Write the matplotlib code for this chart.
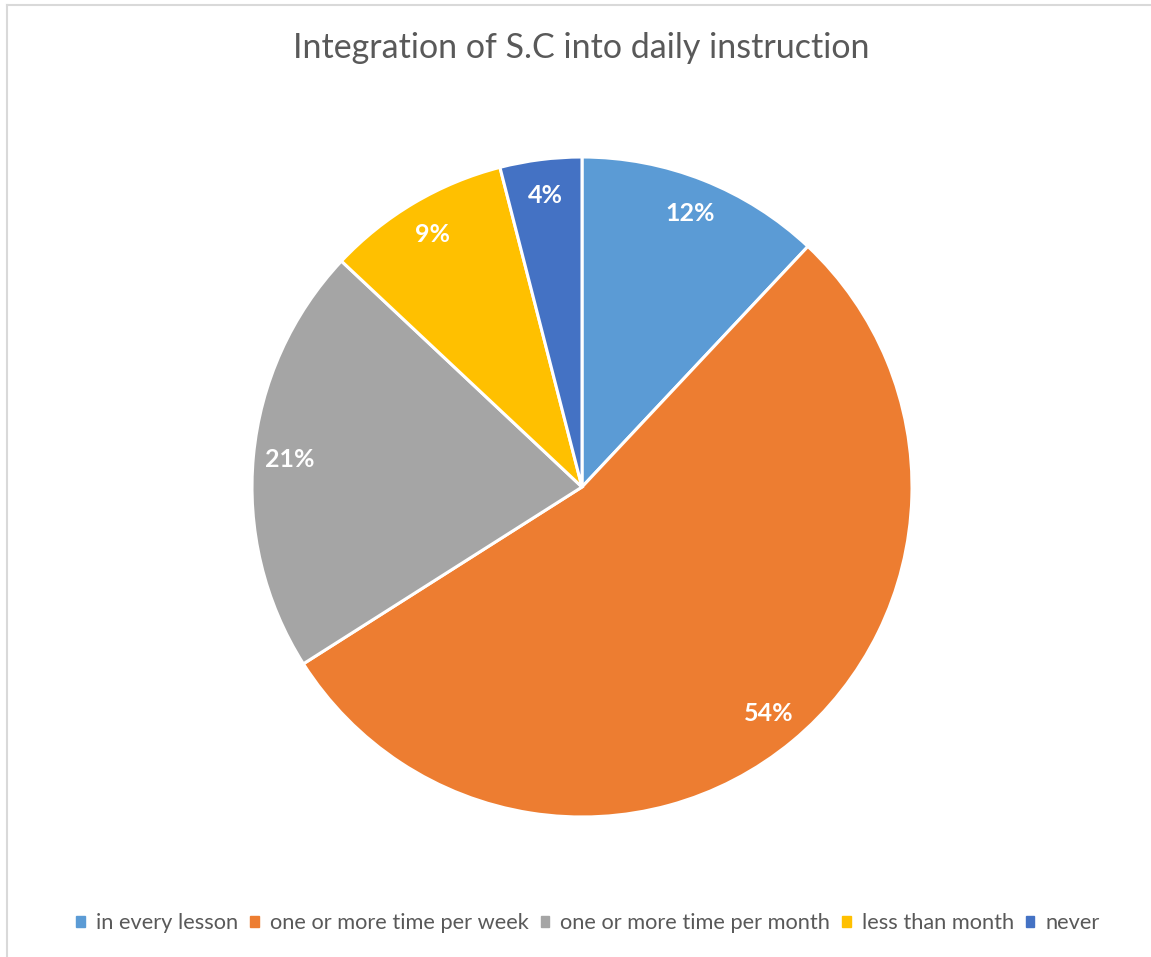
import matplotlib
matplotlib.use("Agg")
import matplotlib.pyplot as plt
from matplotlib.lines import Line2D
from matplotlib.patches import Patch

categories = ["in every lesson", "one or more time per week",
              "one or more time per month", "less than month", "never"]
values = [12, 54, 21, 9, 4]
colors = ["#5B9BD5", "#ED7D31", "#A5A5A5", "#FFC000", "#4472C4"]
title = "Integration of S.C into daily instruction"

W, H = 1151, 957
fig = plt.figure(figsize=(W / 100, H / 100), dpi=100)
fig.patch.set_facecolor("white")

# light frame on top and left edges
fig.add_artist(Line2D([6.5 / W, 6.5 / W], [0, 1 - 4.5 / H], transform=fig.transFigure,
                      color="#d9d9d9", lw=1.5))
fig.add_artist(Line2D([6.5 / W, 1], [1 - 4.5 / H, 1 - 4.5 / H], transform=fig.transFigure,
                      color="#d9d9d9", lw=1.5))

cx, cy, r = 582, 487, 330
ax = fig.add_axes([(cx - r) / W, (H - cy - r) / H, 2 * r / W, 2 * r / H])
wedges, texts, autotexts = ax.pie(
    values, colors=colors, startangle=90, counterclock=False,
    autopct="%d%%", pctdistance=0.89, radius=1,
    wedgeprops=dict(edgecolor="white", linewidth=2.2),
    textprops=dict(color="white", fontsize=18, fontweight="bold", family="Lato"))
ax.set_xlim(-1, 1)
ax.set_ylim(-1, 1)
ax.set_aspect("equal")
ax.axis("off")

fig.text(581 / W, 1 - 48 / H, title, ha="center", va="center",
         fontsize=24.5, color="#595959", family="Lato")

handles = [Patch(facecolor=c, edgecolor=c) for c in colors]
fig.legend(handles, categories, loc="center", bbox_to_anchor=(588 / W, 1 - 923 / H),
           ncol=5, frameon=False, labelcolor="#595959",
           handlelength=0.4, handleheight=0.4, handletextpad=0.5, columnspacing=0.55,
           prop=dict(family="Lato", size=15.7))

fig.savefig("out.png", dpi=100, facecolor="white")
